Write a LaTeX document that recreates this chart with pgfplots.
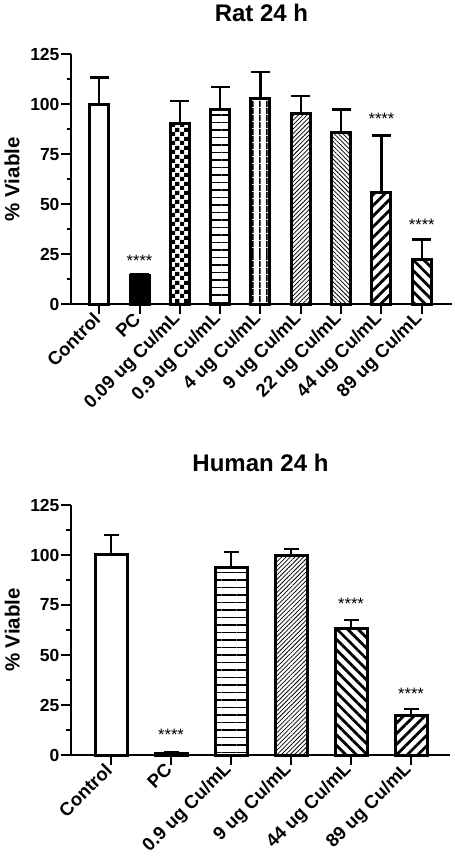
\documentclass[border=0pt]{standalone}
\usepackage{fontspec}
\setmainfont{Liberation Sans}
\usepackage{pgfplots}
\pgfplotsset{compat=1.18}
\usetikzlibrary{patterns.meta}

\pgfdeclarepattern{
  name=Checker,
  type=uncolored,
  bottom left={\pgfpointorigin},
  top right={\pgfpoint{9pt}{9pt}},
  tile size={\pgfpoint{9pt}{9pt}},
  code={
    \pgfpathrectangle{\pgfpointorigin}{\pgfpoint{4.5pt}{4.5pt}}
    \pgfpathrectangle{\pgfpoint{4.5pt}{4.5pt}}{\pgfpoint{4.5pt}{4.5pt}}
    \pgfusepath{fill}
  }
}

\tikzset{starlbl/.style={font=\fontsize{16.5}{16.5}\selectfont, anchor=base}}

\pgfplotsset{
  gpstyle/.style={
    scale only axis,
    axis x line*=bottom,
    axis y line*=left,
    axis line style={line width=2pt,-},
    tick align=outside,
    tick style={line width=2pt,black},
    major tick length=9.5pt,
    minor tick length=4.5pt,
    ymin=0, ymax=125,
    ytick={0,25,50,75,100,125},
    minor y tick num=1,
    /pgf/number format/assume math mode=true,
    tick label style={font=\fontsize{17.5}{17.5}\selectfont\bfseries},
    yticklabel style={xshift=1.5pt},
    xticklabel style={rotate=45, anchor=east, font=\fontsize{18.5}{18.5}\selectfont\bfseries},
    ylabel={\% Viable},
    every axis y label/.style={at={(axis description cs:-0.155,0.5)},rotate=90,anchor=center,font=\fontsize{20.5}{20.5}\selectfont\bfseries},
    every axis title/.style={font=\fontsize{24}{24}\selectfont\bfseries, at={(0.5,1)}, anchor=base, yshift=33pt},
    clip=false,
  },
  mybar/.style={
    ybar, bar shift=0pt, draw=black, line width=3pt,
    error bars/y dir=plus, error bars/y explicit,
    error bars/error bar style={line width=2.5pt,black,solid},
    error bars/error mark options={rotate=90,line width=2.5pt,black,mark size=#1},
  },
}

\begin{document}
\begin{tikzpicture}
\path[use as bounding box] (0,0) rectangle (455pt,865pt);

% ---------------- Rat 24 h ----------------
\begin{axis}[gpstyle,
  at={(71pt,560.7pt)}, anchor=south west,
  width=381pt, height=250pt,
  xmin=-0.70, xmax=8.75,
  xtick={0,1,2,3,4,5,6,7,8},
  xticklabels={Control,PC,0.09 ug Cu/mL,0.9 ug Cu/mL,4 ug Cu/mL,9 ug Cu/mL,22 ug Cu/mL,44 ug Cu/mL,89 ug Cu/mL},
  title={Rat 24 h},
]
\addplot[mybar=9.5pt, bar width=19pt, fill=white] coordinates {(0,100) +- (0,13.5)};
\addplot[mybar=9.5pt, bar width=19pt, fill=black] coordinates {(1,14.2) +- (0,0.8)};
\addplot[mybar=9.5pt, bar width=19pt, pattern=Checker] coordinates {(2,90.2) +- (0,11.4)};
\addplot[mybar=9.5pt, bar width=19pt, pattern={Lines[angle=0,distance=7.5pt,line width=1.3pt]}] coordinates {(3,97.6) +- (0,11.1)};
\addplot[mybar=9.5pt, bar width=19pt, pattern={Lines[angle=90,distance=6.5pt,line width=1.4pt]}] coordinates {(4,102.9) +- (0,13.2)};
\addplot[mybar=9.5pt, bar width=19pt, pattern={Lines[angle=45,distance=3.1pt,line width=0.75pt]}] coordinates {(5,95.3) +- (0,8.9)};
\addplot[mybar=9.5pt, bar width=19pt, pattern={Lines[angle=-45,distance=3.1pt,line width=0.75pt]}] coordinates {(6,85.9) +- (0,11.6)};
\addplot[mybar=9.5pt, bar width=19pt, pattern={Lines[angle=45,distance=7.5pt,line width=2.8pt]}] coordinates {(7,56.0) +- (0,28.4)};
\addplot[mybar=9.5pt, bar width=19pt, pattern={Lines[angle=-45,distance=7.5pt,line width=2.8pt]}] coordinates {(8,22.6) +- (0,9.9)};
\node[starlbl] at (axis cs:1,19.1) {****};
\node[starlbl] at (axis cs:7,89.8) {****};
\node[starlbl] at (axis cs:8,36.9) {****};
\end{axis}

% ---------------- Human 24 h ----------------
\begin{axis}[gpstyle,
  at={(71pt,110pt)}, anchor=south west,
  width=379pt, height=250pt,
  xmin=-0.667, xmax=5.65,
  xtick={0,1,2,3,4,5},
  xticklabels={Control,PC,0.9 ug Cu/mL,9 ug Cu/mL,44 ug Cu/mL,89 ug Cu/mL},
  title={Human 24 h},
]
\addplot[mybar=7.5pt, bar width=32pt, fill=white] coordinates {(0,100) +- (0,9.9)};
\addplot[mybar=7.5pt, bar width=32pt, fill=black] coordinates {(1,0.9) +- (0,0.6)};
\addplot[mybar=7.5pt, bar width=32pt, pattern={Lines[angle=0,distance=7.5pt,line width=1.3pt]}] coordinates {(2,93.7) +- (0,7.9)};
\addplot[mybar=7.5pt, bar width=32pt, pattern={Lines[angle=45,distance=3.1pt,line width=0.75pt]}] coordinates {(3,99.6) +- (0,3.3)};
\addplot[mybar=7.5pt, bar width=32pt, pattern={Lines[angle=-45,distance=7.5pt,line width=2.8pt]}] coordinates {(4,63.1) +- (0,4.3)};
\addplot[mybar=7.5pt, bar width=32pt, pattern={Lines[angle=45,distance=7.5pt,line width=2.8pt]}] coordinates {(5,19.8) +- (0,3.3)};
\node[starlbl] at (axis cs:1,7.2) {****};
\node[starlbl] at (axis cs:4,72.9) {****};
\node[starlbl] at (axis cs:5,27.9) {****};
\end{axis}
\end{tikzpicture}
\end{document}
